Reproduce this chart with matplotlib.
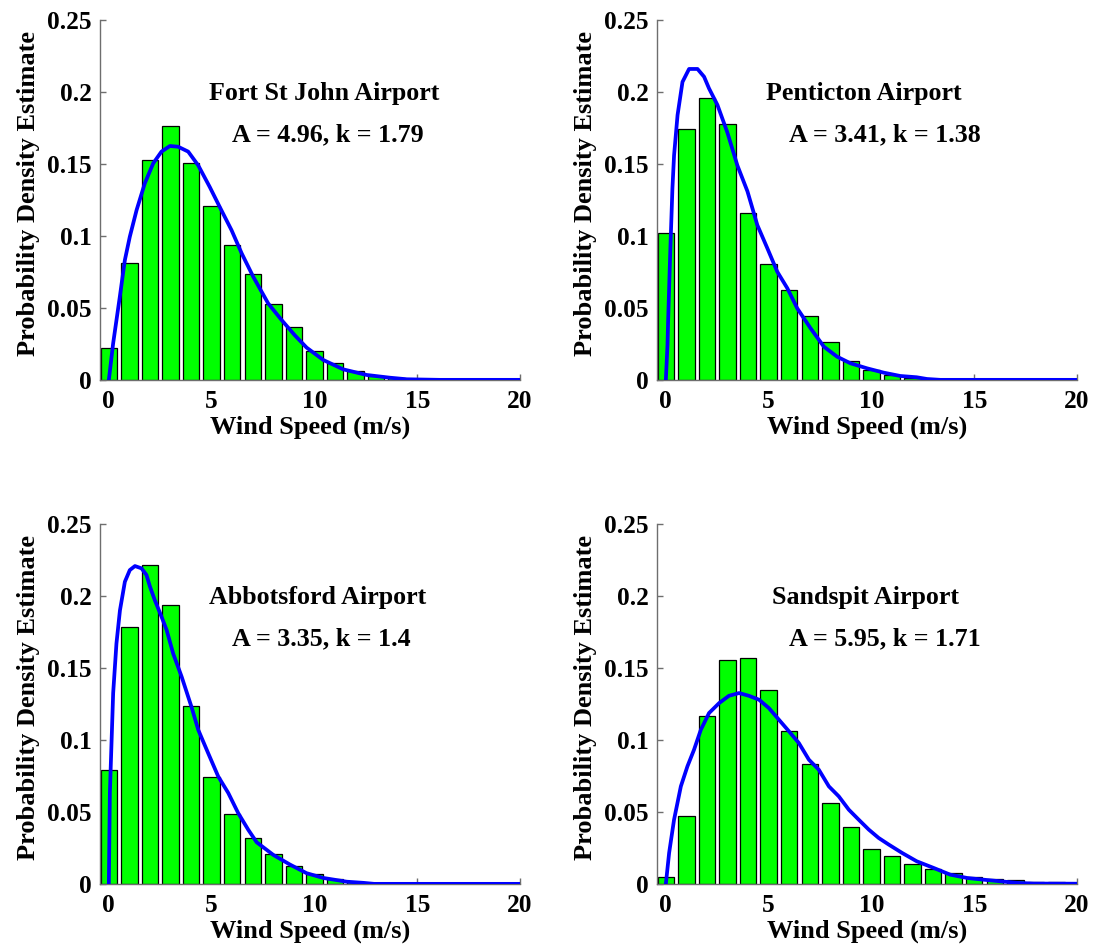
import matplotlib
matplotlib.use("Agg")
import matplotlib.pyplot as plt
import numpy as np

plt.rcParams['font.family'] = ['Liberation Serif', 'DejaVu Serif']
plt.rcParams['font.weight'] = 'bold'

bar_x = list(range(20))

stations = ["Fort St John Airport", "Penticton Airport", "Abbotsford Airport", "Sandspit Airport"]
params = ["A = 4.96, k = 1.79", "A = 3.41, k = 1.38", "A = 3.35, k = 1.4", "A = 5.95, k = 1.71"]

bars_fsj = [0.022, 0.0815, 0.153, 0.1766, 0.151, 0.121, 0.094, 0.0738, 0.053, 0.0366,
            0.0201, 0.012, 0.006, 0.0028, 0.0016, 0.0007, 0.0003, 0.0001, 0.0, 0.0]
bars_pen = [0.1019, 0.174, 0.1956, 0.178, 0.1162, 0.0803, 0.0624, 0.0443, 0.0262, 0.0132,
            0.0072, 0.0035, 0.0016, 0.0007, 0.0003, 0.0001, 0.0, 0.0, 0.0, 0.0]
bars_abb = [0.0795, 0.1786, 0.2212, 0.194, 0.1235, 0.0744, 0.0487, 0.032, 0.0205, 0.0128,
            0.0066, 0.0036, 0.0015, 0.0007, 0.0003, 0.0001, 0.0, 0.0, 0.0, 0.0]
bars_san = [0.005, 0.0474, 0.1168, 0.1554, 0.1566, 0.1346, 0.1064, 0.0835, 0.0562, 0.0397,
            0.0244, 0.0191, 0.014, 0.0101, 0.0075, 0.0049, 0.0038, 0.0027, 0.0017, 0.0015]

curve_fsj_x = [0, 0.21, 0.535, 0.78, 1.02, 1.35, 1.75, 2.16, 2.56, 2.97, 3.37, 3.86, 4.35, 4.91,
               5.40, 5.97, 6.46, 7.02, 7.75, 8.40, 9.05, 9.62, 10.43, 11.4, 12.54, 13.67, 14.5, 16.1, 20]
curve_fsj_y = [0, 0.0255, 0.0579, 0.0833, 0.0995, 0.118, 0.1366, 0.1505, 0.1586, 0.1625, 0.162,
               0.1586, 0.149, 0.134, 0.120, 0.104, 0.088, 0.0718, 0.0532, 0.0417, 0.031, 0.0225,
               0.0139, 0.0074, 0.0035, 0.0016, 0.0005, 0.0001, 0.0001]

curve_pen_x = [0, 0.08, 0.11, 0.21, 0.32, 0.40, 0.57, 0.81, 1.13, 1.54, 1.86, 2.10, 2.51, 2.99,
               3.48, 3.97, 4.45, 4.94, 5.42, 5.91, 6.39, 7.04, 7.69, 8.33, 8.98, 9.79, 10.6, 11.4,
               12.2, 12.7, 13.35, 20]
curve_pen_y = [0, 0.0243, 0.0405, 0.0868, 0.133, 0.156, 0.184, 0.207, 0.216, 0.216, 0.2106, 0.2025,
               0.191, 0.172, 0.149, 0.131, 0.1076, 0.0914, 0.0752, 0.0637, 0.0498, 0.0359, 0.0231,
               0.0162, 0.0116, 0.0081, 0.0051, 0.0028, 0.0019, 0.0007, 0.0001, 0.0001]

curve_abb_x = [0, 0.05, 0.21, 0.37, 0.54, 0.78, 1.02, 1.27, 1.59, 1.83, 2.0, 2.24, 2.56, 2.81,
               3.13, 3.54, 4.02, 4.35, 4.83, 5.32, 5.81, 6.29, 6.78, 7.19, 8.0, 8.81, 9.62, 10.43,
               11.57, 12.38, 12.9, 20]
curve_abb_y = [0, 0.0632, 0.1325, 0.167, 0.190, 0.2099, 0.218, 0.2208, 0.2192, 0.2146, 0.2065,
               0.197, 0.1857, 0.1764, 0.160, 0.144, 0.123, 0.107, 0.0909, 0.0747, 0.0632, 0.0493,
               0.0377, 0.029, 0.0202, 0.0135, 0.0075, 0.0042, 0.0016, 0.0008, 0.0001, 0.0001]

curve_san_x = [0, 0.16, 0.40, 0.73, 1.05, 1.37, 1.70, 2.10, 2.59, 3.07, 3.56, 4.04, 4.53, 5.01,
               5.5, 5.99, 6.47, 6.96, 7.44, 7.93, 8.41, 8.9, 9.38, 9.87, 10.35, 10.84, 11.49, 12.2,
               13.02, 13.83, 14.65, 15.45, 16.26, 17.07, 17.9, 20]
curve_san_y = [0, 0.0216, 0.0447, 0.0678, 0.0817, 0.0932, 0.107, 0.1187, 0.1256, 0.1307, 0.1326,
               0.1307, 0.128, 0.1222, 0.1141, 0.106, 0.0979, 0.0863, 0.0794, 0.0678, 0.0609, 0.0516,
               0.0447, 0.0378, 0.0320, 0.0274, 0.0216, 0.0158, 0.0112, 0.0065, 0.0042, 0.003,
               0.0019, 0.0008, 0.0003, 0.0002]

all_bars = [bars_fsj, bars_pen, bars_abb, bars_san]
all_cx = [curve_fsj_x, curve_pen_x, curve_abb_x, curve_san_x]
all_cy = [curve_fsj_y, curve_pen_y, curve_abb_y, curve_san_y]
title_x = [4.85, 4.85, 4.88, 5.15]

xticks = [0, 5, 10, 15, 20]
yticks = [0, 0.05, 0.1, 0.15, 0.2, 0.25]
ytick_labels = ["0", "0.05", "0.1", "0.15", "0.2", "0.25"]

W, H = 1098, 951
fig = plt.figure(figsize=(W / 100, H / 100), dpi=100)
lefts = [100, 657, 100, 657]
tops = [20, 20, 524, 524]
aw, ah = 420, 360

spine_col = '#6e6e6e'
fs_tick = 18.3
fs_lab = 19
fs_txt = 18.7

for i in range(4):
    ax = fig.add_axes([lefts[i] / W, 1 - (tops[i] + ah) / H, aw / W, ah / H])
    ax.bar(bar_x, all_bars[i], width=0.8, color='#00ff00', edgecolor='black', linewidth=0.9, zorder=2)
    ax.plot(all_cx[i], all_cy[i], color='#0000ff', linewidth=2.7, zorder=3,
            solid_joinstyle='round', solid_capstyle='round')
    ax.set_xlim(-0.43, 20)
    ax.set_ylim(0, 0.25)
    ax.set_xticks(xticks)
    ax.set_xticklabels([str(t) for t in xticks], fontsize=fs_tick, fontweight='bold')
    ax.set_yticks(yticks)
    ax.set_yticklabels(ytick_labels, fontsize=fs_tick, fontweight='bold')
    ax.tick_params(direction='in', length=4, width=1, color=spine_col)
    ax.tick_params(axis='x', pad=7)
    ax.tick_params(axis='y', pad=6)
    ax.spines['top'].set_visible(False)
    ax.spines['right'].set_visible(False)
    for s in ['left', 'bottom']:
        ax.spines[s].set_color(spine_col)
        ax.spines[s].set_linewidth(1.0)
    ax.set_xlabel("Wind Speed (m/s)", fontsize=fs_lab, fontweight='bold', labelpad=2)
    ax.set_ylabel("Probability Density Estimate", fontsize=fs_lab, fontweight='bold')
    ax.yaxis.set_label_coords(-0.143, 0.517)
    ax.text(title_x[i], 0.199, stations[i], fontsize=fs_txt, fontweight='bold', ha='left', va='center')
    ax.text(6.0, 0.1705, params[i], fontsize=fs_txt, fontweight='bold', ha='left', va='center')

fig.savefig("out.png", dpi=100)
